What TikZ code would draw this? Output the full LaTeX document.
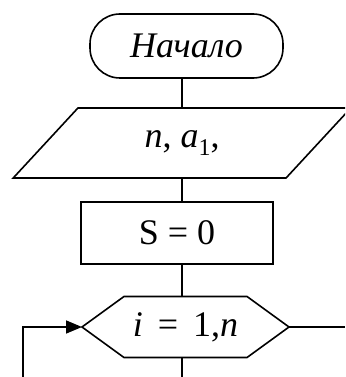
\documentclass[tikz,border=0pt]{standalone}
\usepackage{fontspec}
\setmainfont{Liberation Serif}
\usetikzlibrary{shapes.geometric, shapes.symbols, arrows.meta}

\begin{document}
\begin{tikzpicture}[x=1pt, y=-1pt, line width=1.6pt, line join=miter,
	font=\fontsize{36}{42}\selectfont,
	blk/.style={draw, inner sep=0pt, outer sep=0pt},
	term/.style={blk, rounded corners=30pt, minimum width=193pt, minimum height=64pt},
	inbox/.style={blk, trapezium, trapezium left angle=46, trapezium right angle=134,
		trapezium stretches=true, minimum width=338pt, minimum height=70pt},
	proc/.style={blk, rectangle, minimum width=192pt, minimum height=62pt},
	cycle/.style={blk, signal, signal to=west and east, signal pointer angle=72,
		minimum width=207pt, minimum height=61pt}]
	\useasboundingbox (0, 0) rectangle (345, 377);
	\clip (0, 0) rectangle (345, 377);
	\node[term] (start) at (186.5, 46) {\textit{Начало}};
	\node[inbox] (inp) at (182, 143) {\textit{n}, \textit{a}\raisebox{-0.2em}{\fontsize{24}{26}\selectfont 1},};
	\node[proc] (sum) at (177, 233) {S = 0};
	\node[cycle] (loop) at (185.5, 327) {\textit{i}\, = \,1,\textit{n}};
	\coordinate (down) at (182, 377);
	\coordinate (out) at (345, 327);
	\coordinate (back) at (23, 377);
	% links
	\draw (start.south -| inp.north) -- (inp.north);
	\draw (inp.south) -- (inp.south |- sum.north);
	\draw (sum.south -| inp.south) -- (loop.north -| inp.south);
	\draw (loop.south -| inp.south) -- (down);
	\draw (loop.east) -- (loop.east -| out);
	\draw[-{Triangle[length=16pt, width=13pt]}] (back) |- (loop.west);
\end{tikzpicture}
\end{document}
